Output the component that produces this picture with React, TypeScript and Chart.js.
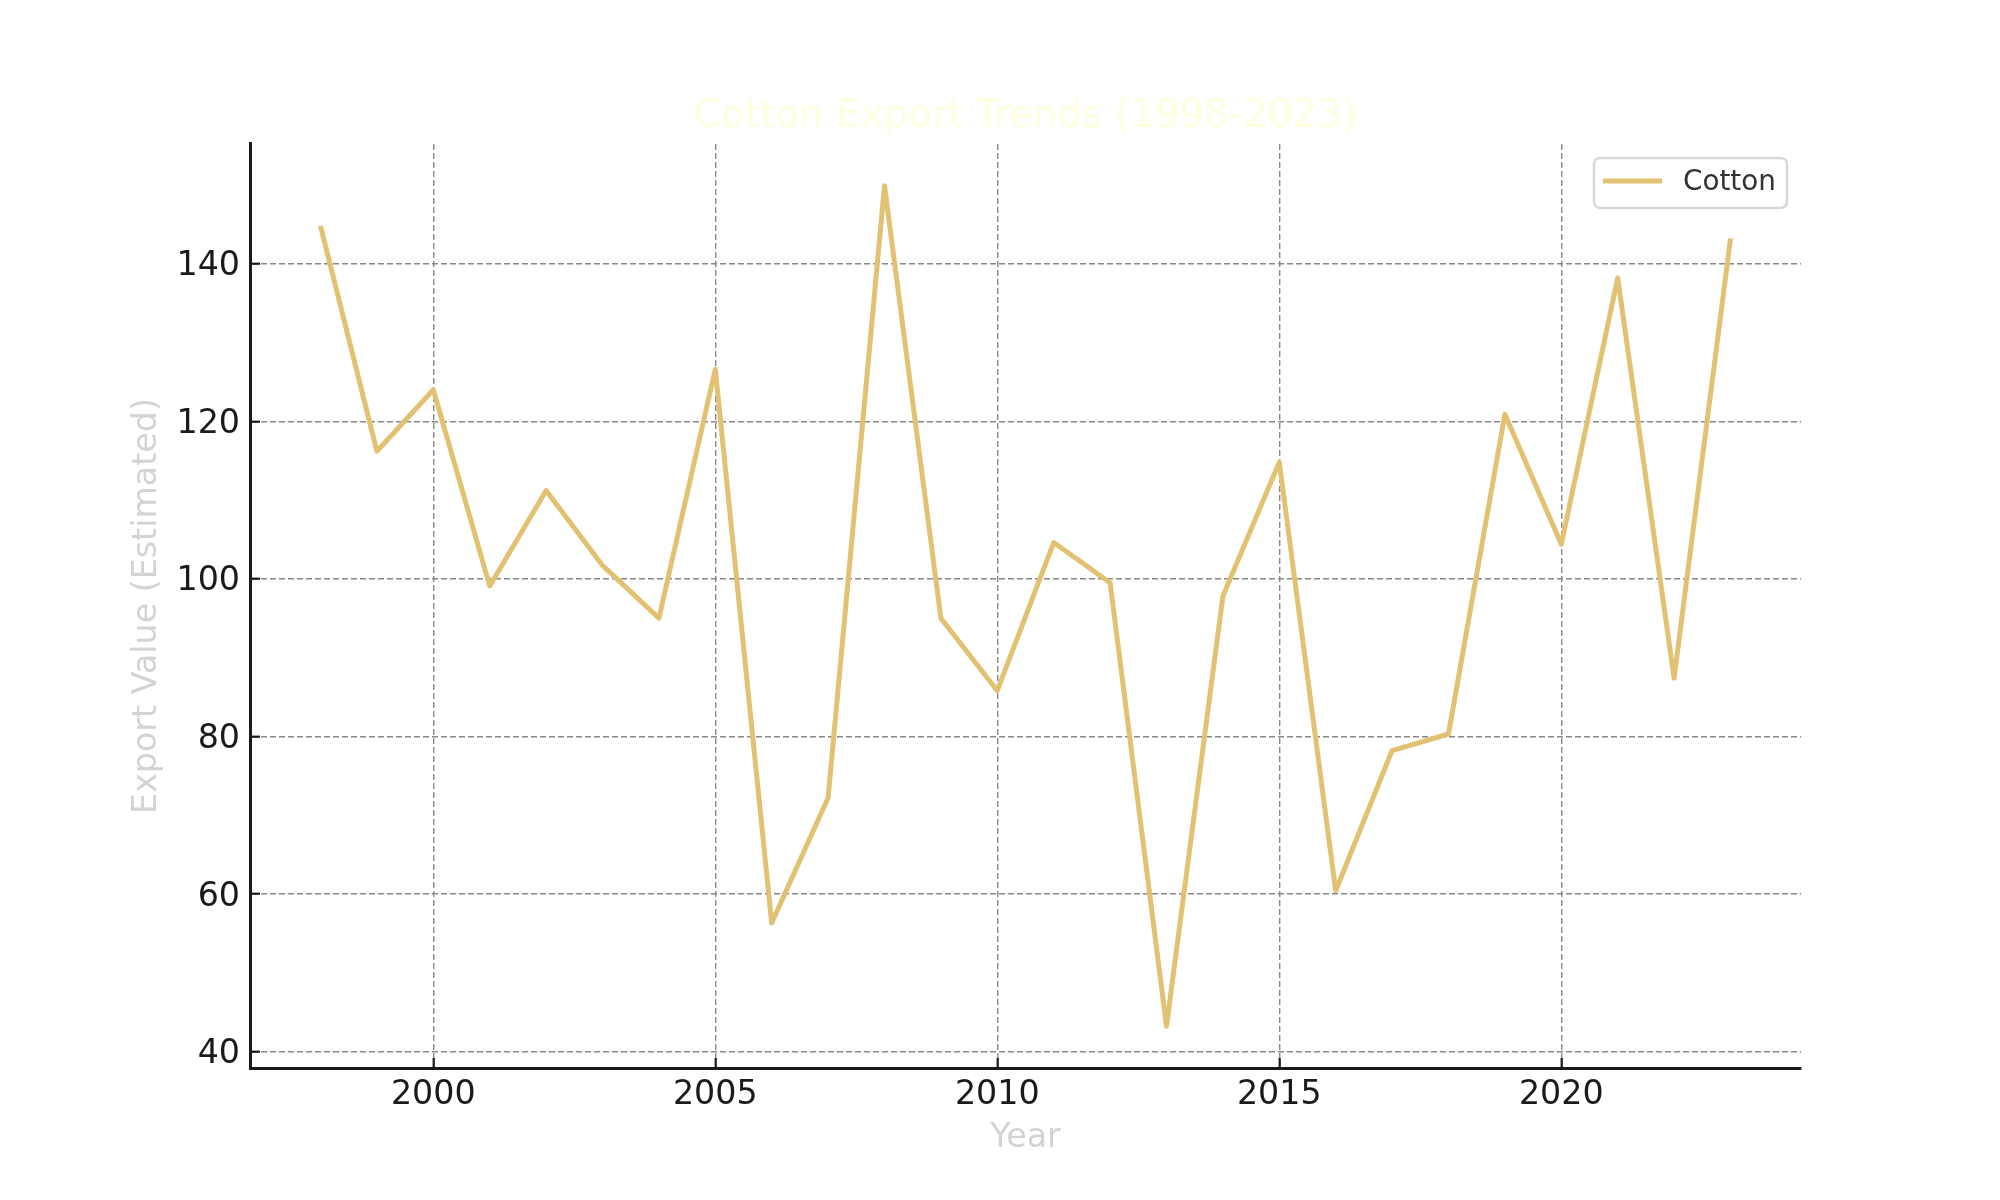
import { useEffect, useRef } from "react";
import { Chart, registerables } from "chart.js";

Chart.register(...registerables);

const years = [
  1998, 1999, 2000, 2001, 2002, 2003, 2004, 2005, 2006, 2007, 2008, 2009, 2010,
  2011, 2012, 2013, 2014, 2015, 2016, 2017, 2018, 2019, 2020, 2021, 2022, 2023,
];
const cottonExports = [
  144.8, 116.2, 124.0, 99.1, 111.2, 101.7, 95.0, 126.6, 56.3, 72.2, 149.9, 95.0, 85.8,
  104.6, 99.5, 43.2, 97.8, 114.8, 60.4, 78.2, 80.3, 120.9, 104.4, 138.2, 87.4, 143.2,
];
const xTicks = [2000, 2005, 2010, 2015, 2020];
const yTicks = [40, 60, 80, 100, 120, 140];

const chartTitle = "Cotton Export Trends (1998-2023)";
const seriesLabel = "Cotton";
const xLabel = "Year";
const yLabel = "Export Value (Estimated)";

const FONT = "'DejaVu Sans', sans-serif";
const LINE_COLOR = "#E2C172";

// matplotlib-style legend with a rounded frame in the top right corner
const boxedLegend = {
  id: "boxedLegend",
  afterDatasetsDraw(chart: Chart) {
    const { ctx, chartArea } = chart;
    const ds = chart.data.datasets[0];
    const w = 193;
    const h = 50;
    const x = chartArea.right - 14 - w;
    const y = chartArea.top + 14;
    ctx.save();
    ctx.beginPath();
    ctx.roundRect(x, y, w, h, 6);
    ctx.fillStyle = "rgba(255,255,255,0.85)";
    ctx.fill();
    ctx.lineWidth = 2.5;
    ctx.strokeStyle = "#d8d8d8";
    ctx.stroke();

    ctx.beginPath();
    ctx.moveTo(x + 9, y + 23);
    ctx.lineTo(x + 68, y + 23);
    ctx.lineWidth = 5;
    ctx.strokeStyle = ds.borderColor as string;
    ctx.stroke();

    ctx.font = `27.8px ${FONT}`;
    ctx.fillStyle = "#333333";
    ctx.textBaseline = "middle";
    ctx.textAlign = "left";
    ctx.fillText(String(ds.label), x + 89, y + 25);
    ctx.restore();
  },
};

export default function App() {
  const canvasRef = useRef<HTMLCanvasElement | null>(null);
  const chartRef = useRef<Chart | null>(null);

  useEffect(() => {
    if (chartRef.current) chartRef.current.destroy();
    if (!canvasRef.current) return;

    const points = years.map((yr, i) => ({ x: yr, y: cottonExports[i] }));

    chartRef.current = new Chart(canvasRef.current, {
      type: "line",
      data: {
        datasets: [
          {
            label: seriesLabel,
            data: points,
            borderColor: LINE_COLOR,
            backgroundColor: LINE_COLOR,
            borderWidth: 5,
            pointRadius: 0,
            tension: 0,
            borderJoinStyle: "round",
            fill: false,
          },
        ],
      },
      options: {
        responsive: false,
        animation: false,
        devicePixelRatio: 1,
        layout: { padding: { left: 0, right: 199, top: 0, bottom: 0 } },
        plugins: {
          legend: { display: false },
          tooltip: { enabled: false },
          title: {
            display: true,
            fullSize: false,
            text: chartTitle,
            color: "#FFFFE0",
            font: { family: FONT, size: 38.9, weight: "normal" },
            padding: { top: 93.5, bottom: 3.8 },
          },
        },
        scales: {
          x: {
            type: "linear",
            min: 1996.75,
            max: 2024.25,
            afterBuildTicks: (scale: any) => {
              scale.ticks = xTicks.map((v) => ({ value: v }));
            },
            afterFit: (scale: any) => {
              scale.height = 132;
            },
            grid: {
              color: "#888888",
              lineWidth: 1.4,
              tickLength: -10,
              tickColor: "#1a1a1a",
              tickWidth: 2.2,
              tickBorderDash: [],
            },
            border: { display: true, color: "#1a1a1a", width: 3, dash: [6, 3] },
            ticks: {
              color: "#1a1a1a",
              font: { family: FONT, size: 33.3 },
              padding: 17.5,
              maxRotation: 0,
              callback: (v: any) => String(v),
            },
            title: {
              display: true,
              text: xLabel,
              color: "#D3D3D3",
              font: { family: FONT, size: 33.3 },
              padding: { top: 0, bottom: 41.5 },
            },
          },
          y: {
            type: "linear",
            min: 37.9,
            max: 155.2,
            afterBuildTicks: (scale: any) => {
              scale.ticks = yTicks.map((v) => ({ value: v }));
            },
            afterFit: (scale: any) => {
              scale.width = 250;
            },
            grid: {
              color: "#888888",
              lineWidth: 1.4,
              tickLength: -10,
              tickColor: "#1a1a1a",
              tickWidth: 2.2,
              tickBorderDash: [],
            },
            border: { display: true, color: "#1a1a1a", width: 3, dash: [6, 3] },
            ticks: {
              color: "#1a1a1a",
              font: { family: FONT, size: 33.3 },
              padding: 20,
              labelOffset: 3,
              callback: (v: any) => String(v),
            },
            title: {
              display: true,
              text: yLabel,
              color: "#D3D3D3",
              font: { family: FONT, size: 33.3 },
              padding: { top: 127, bottom: 0 },
            },
          },
        },
      },
      plugins: [boxedLegend],
    });

    return () => {
      if (chartRef.current) {
        chartRef.current.destroy();
        chartRef.current = null;
      }
    };
  }, []);

  return (
    <div style={{ position: "fixed", left: 0, top: 0, width: 2000, height: 1200, background: "#ffffff" }}>
      <canvas ref={canvasRef} width={2000} height={1200}></canvas>
    </div>
  );
}
